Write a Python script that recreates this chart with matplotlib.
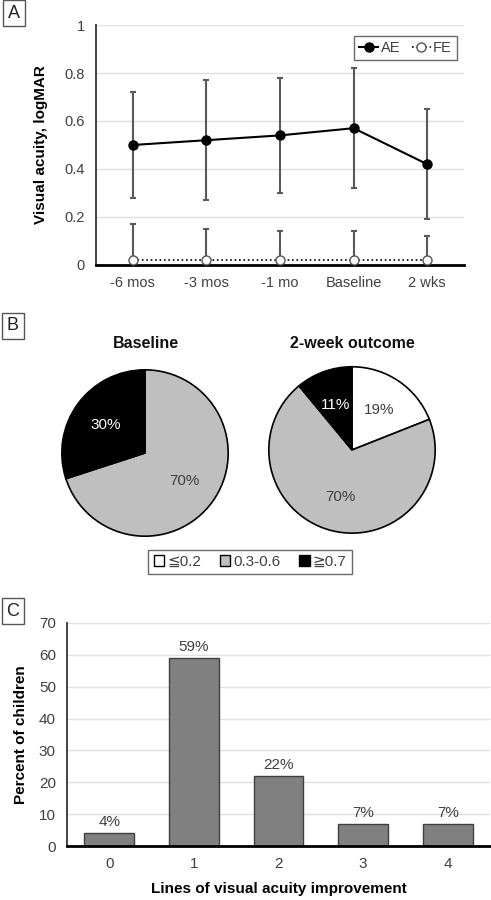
import numpy as np
import matplotlib
matplotlib.use('Agg')
import matplotlib.pyplot as plt
from matplotlib.patches import Patch

plt.rcParams['font.family'] = ['Liberation Sans', 'DejaVu Sans']
plt.rcParams['font.size'] = 10

# Panel A data
timepoints = ['-6 mos', '-3 mos', '-1 mo', 'Baseline', '2 wks']
ae_mean = [0.50, 0.52, 0.54, 0.57, 0.42]
ae_sd = [0.22, 0.25, 0.24, 0.25, 0.23]
fe_mean = [0.02, 0.02, 0.02, 0.02, 0.02]
fe_sd = [0.15, 0.13, 0.12, 0.12, 0.10]

# Panel B data
va_groups = ['≦0.2', '0.3-0.6', '≧0.7']
baseline_pct = [0, 70, 30]
outcome_pct = [19, 70, 11]
pie_colors = ['white', '#bfbfbf', 'black']

# Panel C data
lines_improved = ['0', '1', '2', '3', '4']
pct_children = [4, 59, 22, 7, 7]

fig = plt.figure(figsize=(4.91, 9), dpi=100)
txtcol = '#404040'
errcol = '#595959'


def panel_label(x, y, s):
    fig.text(x, y, s, fontsize=13, ha='center', va='center', color='#222222',
             bbox=dict(boxstyle='square,pad=0.25', fc='white', ec='#555555', lw=1))


# ---- A ----
axA = fig.add_axes([0.1955, 0.7056, 0.7495, 0.2666])
x = np.arange(len(timepoints))
axA.errorbar(x, ae_mean, yerr=ae_sd, fmt='none', ecolor=errcol, elinewidth=1.5,
             capsize=2, capthick=1.5, zorder=2)
axA.errorbar(x, fe_mean, yerr=[[0] * 5, fe_sd], fmt='none', ecolor=errcol,
             elinewidth=1.5, capsize=2, capthick=1.5, zorder=2)
axA.plot(x, ae_mean, '-o', color='black', lw=1.5, ms=6.5, label='AE', zorder=3)
axA.plot(x, fe_mean, ':o', color='black', lw=1.2, ms=6.5, mfc='white',
         mec='#555555', label='FE', zorder=3, clip_on=False)
axA.set_xlim(-0.5, 4.5)
axA.set_ylim(0, 1)
axA.set_yticks([0, 0.2, 0.4, 0.6, 0.8, 1])
axA.set_yticklabels(['0', '0.2', '0.4', '0.6', '0.8', '1'])
axA.set_xticks(x)
axA.set_xticklabels(timepoints)
axA.tick_params(length=0, pad=8, labelsize=10.5, colors=txtcol)
axA.grid(axis='y', color='#e0e0e0', lw=1)
axA.set_axisbelow(True)
for s in ['top', 'right']:
    axA.spines[s].set_visible(False)
axA.spines['bottom'].set_linewidth(2)
axA.spines['left'].set_linewidth(1.3)
axA.spines['left'].set_color('#333333')
axA.set_ylabel('Visual acuity, logMAR', fontweight='bold', fontsize=11, labelpad=12)
legA = axA.legend(loc='upper right', ncol=2, frameon=True, fancybox=False,
                  edgecolor='#444444', fontsize=10.5, handlelength=1.3,
                  handletextpad=0.15, columnspacing=0.8, borderpad=0.35,
                  bbox_to_anchor=(1.0, 0.985))
legA.get_frame().set_linewidth(1)
for t in legA.get_texts():
    t.set_color(txtcol)
panel_label(14 / 491, 1 - 13 / 900, 'A')

# ---- B ----
panel_label(13 / 491, 1 - 326 / 900, 'B')
fig.text(146 / 491, 1 - 344 / 900, 'Baseline', fontweight='bold', fontsize=11.5,
         ha='center', va='center', color='#111111')
fig.text(352 / 491, 1 - 344 / 900, '2-week outcome', fontweight='bold', fontsize=11.5,
         ha='center', va='center', color='#111111')

pie_specs = [(baseline_pct, [0.1242, 0.4033, 0.3422, 0.1867]),
             (outcome_pct, [0.5458, 0.4067, 0.3422, 0.1867])]
for vals, pos in pie_specs:
    ax = fig.add_axes(pos)
    keep = [i for i, v in enumerate(vals) if v > 0]
    wedges, texts, autotexts = ax.pie(
        [vals[i] for i in keep], colors=[pie_colors[i] for i in keep],
        startangle=90, counterclock=False, autopct='%d%%', pctdistance=0.58,
        wedgeprops=dict(edgecolor='black', linewidth=1.2),
        textprops=dict(fontsize=11, color=txtcol))
    for i, t in zip(keep, autotexts):
        if pie_colors[i] == 'black':
            t.set_color('white')
    ax.set_xlim(-1.01, 1.01)
    ax.set_ylim(-1.01, 1.01)
    ax.set_aspect('equal')

handles = [Patch(facecolor=c, edgecolor='black', lw=1) for c in pie_colors]
legB = fig.legend(handles, va_groups, loc='center', bbox_to_anchor=(250 / 491, 1 - 562 / 900),
                  ncol=3, frameon=True, fancybox=False, edgecolor='#444444', fontsize=11,
                  handlelength=0.7, handleheight=0.7, handletextpad=0.2,
                  columnspacing=1.2, borderpad=0.35)
for t in legB.get_texts():
    t.set_color(txtcol)

# ---- C ----
panel_label(13 / 491, 1 - 611 / 900, 'C')
axC = fig.add_axes([0.1365, 0.06, 0.8615, 0.2478])
xc = np.arange(len(lines_improved))
bars = axC.bar(xc, pct_children, width=0.59, color='#808080', edgecolor='#404040', lw=1)
for b, v in zip(bars, pct_children):
    axC.text(b.get_x() + b.get_width() / 2, v + 1.2, f'{v}%', ha='center', va='bottom',
             fontsize=11, color=txtcol)
axC.set_xlim(-0.5, 4.5)
axC.set_ylim(0, 70)
axC.set_yticks(range(0, 71, 10))
axC.set_xticks(xc)
axC.set_xticklabels(lines_improved)
axC.tick_params(length=0, pad=8, labelsize=11, colors=txtcol)
axC.grid(axis='y', color='#e0e0e0', lw=1)
axC.set_axisbelow(True)
for s in ['top', 'right']:
    axC.spines[s].set_visible(False)
axC.spines['bottom'].set_linewidth(2)
axC.spines['left'].set_linewidth(1.3)
axC.spines['left'].set_color('#333333')
axC.set_ylabel('Percent of children', fontweight='bold', fontsize=11, labelpad=8)
axC.set_xlabel('Lines of visual acuity improvement', fontweight='bold', fontsize=11,
               labelpad=8)

fig.savefig('out.png', dpi=100)
